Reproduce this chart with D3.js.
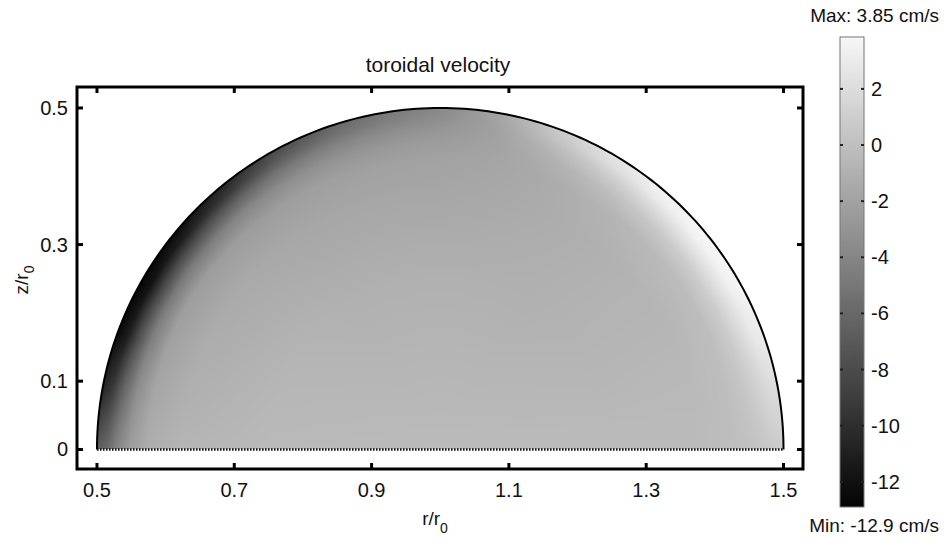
<!DOCTYPE html>
<html>
<head>
<meta charset="utf-8">
<script src="https://cdn.jsdelivr.net/npm/d3@7"></script>
<style>
  html, body { margin: 0; padding: 0; background: #fff; }
  svg { display: block; }
  text { font-family: "Liberation Sans", Arial, Helvetica, sans-serif; fill: #111; }
</style>
</head>
<body>
<svg id="chart" width="944" height="540"></svg>
<script>
// Toroidal velocity (cm/s) over the half-disc cross-section, centre (1, 0), radius 0.5.
// Sampled on a polar grid: angle from the +r axis (degrees) x normalised distance from centre.
const thetaDeg = [0, 10, 20, 30, 40, 50, 60, 70, 80, 90, 100, 110, 120, 130, 140, 150, 160, 170, 180];
const rhoLevels = [0, 0.5, 0.75, 0.85, 0.9, 0.94, 0.97, 1.0];
const velocity = [
  [-0.3, -0.3, -0.3, -0.1,  0.1,  0.4,   0.7,   0.9],
  [-0.3, -0.4, -0.4, -0.1,  0.4,  1.1,   1.7,   2.0],
  [-0.3, -0.6, -0.5, -0.1,  0.7,  1.9,   2.8,   3.2],
  [-0.3, -0.7, -0.7, -0.2,  0.9,  2.4,   3.4,   3.8],
  [-0.3, -0.8, -0.8, -0.3,  0.8,  2.4,   3.5,   3.85],
  [-0.3, -0.9, -1.0, -0.6,  0.4,  1.8,   3.0,   3.5],
  [-0.3, -1.0, -1.2, -1.0, -0.3,  0.8,   1.9,   2.5],
  [-0.3, -1.0, -1.4, -1.5, -1.2, -0.6,   0.2,   0.7],
  [-0.3, -1.0, -1.6, -1.8, -2.0, -2.1,  -2.0,  -1.8],
  [-0.3, -1.0, -1.7, -2.0, -2.4, -2.9,  -3.4,  -3.8],
  [-0.3, -1.0, -1.7, -2.1, -2.7, -3.5,  -4.4,  -5.0],
  [-0.3, -1.0, -1.7, -2.2, -3.0, -4.2,  -5.5,  -6.5],
  [-0.3, -1.0, -1.7, -2.3, -3.4, -5.1,  -7.0,  -8.4],
  [-0.3, -0.9, -1.6, -2.4, -4.0, -6.6,  -9.3, -10.8],
  [-0.3, -0.8, -1.5, -2.4, -4.6, -8.0, -11.0, -12.4],
  [-0.3, -0.7, -1.4, -2.3, -4.8, -8.6, -11.8, -12.9],
  [-0.3, -0.6, -1.2, -2.1, -4.4, -8.0, -11.2, -12.5],
  [-0.3, -0.5, -1.0, -1.7, -3.4, -6.2,  -9.0, -10.6],
  [-0.3, -0.4, -0.7, -1.2, -2.3, -4.0,  -5.8,  -6.8]
];
const vMin = -12.9, vMax = 3.85;

const xTicks = [0.5, 0.7, 0.9, 1.1, 1.3, 1.5];
const yTicks = [0, 0.1, 0.3, 0.5];
const cbTicks = [2, 0, -2, -4, -6, -8, -10, -12];
const centre = [1.0, 0.0], radius = 0.5;

const svg = d3.select("#chart");

// Plot frame and scales (equal aspect in data units)
const frame = { left: 77, right: 803, top: 87, bottom: 469 };
const x = d3.scaleLinear().domain([0.4709, 1.5284]).range([frame.left, frame.right]);
const y = d3.scaleLinear().domain([-0.0286, 0.5307]).range([frame.bottom, frame.top]);
const gray = d3.scaleLinear().domain([vMin, vMax]).range(["#040404", "#f7f7f7"]).clamp(true);

// Bilinear lookup on the polar grid
function sample(thDeg, rho) {
  const ti = Math.min(Math.max(d3.bisectRight(thetaDeg, thDeg) - 1, 0), thetaDeg.length - 2);
  const ri = Math.min(Math.max(d3.bisectRight(rhoLevels, rho) - 1, 0), rhoLevels.length - 2);
  const tf = Math.min(Math.max((thDeg - thetaDeg[ti]) / (thetaDeg[ti + 1] - thetaDeg[ti]), 0), 1);
  const rf = Math.min(Math.max((rho - rhoLevels[ri]) / (rhoLevels[ri + 1] - rhoLevels[ri]), 0), 1);
  const a = velocity[ti][ri], b = velocity[ti][ri + 1];
  const c = velocity[ti + 1][ri], d = velocity[ti + 1][ri + 1];
  return (a * (1 - rf) + b * rf) * (1 - tf) + (c * (1 - rf) + d * rf) * tf;
}

// Rasterise the field into an image that sits inside the frame
const px0 = Math.floor(x(centre[0] - radius)) - 1, px1 = Math.ceil(x(centre[0] + radius)) + 1;
const py0 = Math.floor(y(radius)) - 1, py1 = Math.ceil(y(0)) + 1;
const W = px1 - px0, H = py1 - py0;
const canvas = document.createElement("canvas");
canvas.width = W; canvas.height = H;
const ctx = canvas.getContext("2d");
const img = ctx.createImageData(W, H);
for (let j = 0; j < H; j++) {
  for (let i = 0; i < W; i++) {
    const r = x.invert(px0 + i + 0.5), z = y.invert(py0 + j + 0.5);
    const dx = r - centre[0];
    const rho = Math.sqrt(dx * dx + z * z) / radius;
    if (rho > 1.0 || z < 0) continue;
    const th = Math.atan2(z, dx) * 180 / Math.PI;
    const c = d3.rgb(gray(sample(th, rho)));
    const k = (j * W + i) * 4;
    img.data[k] = c.r; img.data[k + 1] = c.g; img.data[k + 2] = c.b; img.data[k + 3] = 255;
  }
}
ctx.putImageData(img, 0, 0);
svg.append("image")
  .attr("x", px0).attr("y", py0).attr("width", W).attr("height", H)
  .attr("href", canvas.toDataURL());

// Boundary of the half-disc
const arcPts = d3.range(0, 181, 1).map(a => {
  const t = a * Math.PI / 180;
  return [centre[0] + radius * Math.cos(t), centre[1] + radius * Math.sin(t)];
});
svg.append("path")
  .attr("d", d3.line().x(d => x(d[0])).y(d => y(d[1]))(arcPts))
  .attr("fill", "none").attr("stroke", "#000").attr("stroke-width", 2);
svg.append("line")
  .attr("x1", x(centre[0] - radius)).attr("x2", x(centre[0] + radius))
  .attr("y1", y(0)).attr("y2", y(0))
  .attr("stroke", "#111").attr("stroke-width", 2.5).attr("stroke-dasharray", "1.6,1.4");

// Frame with inward ticks on all four sides
svg.append("rect")
  .attr("x", frame.left).attr("y", frame.top)
  .attr("width", frame.right - frame.left).attr("height", frame.bottom - frame.top)
  .attr("fill", "none").attr("stroke", "#000").attr("stroke-width", 3);
const tickLen = 6;
const ticks = svg.append("g").attr("stroke", "#000").attr("stroke-width", 3);
xTicks.forEach(v => {
  ticks.append("line").attr("x1", x(v)).attr("x2", x(v)).attr("y1", frame.bottom).attr("y2", frame.bottom - tickLen);
  ticks.append("line").attr("x1", x(v)).attr("x2", x(v)).attr("y1", frame.top).attr("y2", frame.top + tickLen);
});
yTicks.forEach(v => {
  ticks.append("line").attr("y1", y(v)).attr("y2", y(v)).attr("x1", frame.left).attr("x2", frame.left + tickLen);
  ticks.append("line").attr("y1", y(v)).attr("y2", y(v)).attr("x1", frame.right).attr("x2", frame.right - tickLen);
});

// Tick labels
svg.append("g").selectAll("text").data(xTicks).join("text")
  .attr("x", d => x(d)).attr("y", 497)
  .attr("text-anchor", "middle").attr("font-size", 20)
  .text(d => d3.format(".1f")(d));
svg.append("g").selectAll("text").data(yTicks).join("text")
  .attr("x", 68).attr("y", d => y(d) + 7)
  .attr("text-anchor", "end").attr("font-size", 20)
  .text(d => d === 0 ? "0" : d3.format(".1f")(d));

// Title and axis labels
svg.append("text").attr("x", 438).attr("y", 72)
  .attr("text-anchor", "middle").attr("font-size", 21).text("toroidal velocity");
const xl = svg.append("text").attr("x", 435).attr("y", 525)
  .attr("text-anchor", "middle").attr("font-size", 19);
xl.append("tspan").text("r/r");
xl.append("tspan").attr("dy", 8).attr("font-size", 14).text("0");
const yl = svg.append("text").attr("transform", "translate(28,280) rotate(-90)")
  .attr("text-anchor", "middle").attr("font-size", 19);
yl.append("tspan").text("z/r");
yl.append("tspan").attr("dy", 6).attr("font-size", 14).text("0");

// Colour bar
const cb = { x: 840, w: 24, top: 37, bottom: 507 };
const cy = d3.scaleLinear().domain([vMin, vMax]).range([cb.bottom, cb.top]);
const grad = svg.append("defs").append("linearGradient")
  .attr("id", "cbGrad").attr("x1", 0).attr("x2", 0).attr("y1", 1).attr("y2", 0);
d3.range(0, 11).map(i => vMin + (vMax - vMin) * i / 10).forEach(v => {
  grad.append("stop").attr("offset", (v - vMin) / (vMax - vMin)).attr("stop-color", gray(v));
});
svg.append("rect")
  .attr("x", cb.x).attr("y", cb.top).attr("width", cb.w).attr("height", cb.bottom - cb.top)
  .attr("fill", "url(#cbGrad)").attr("stroke", "#777").attr("stroke-width", 1);
const cbt = svg.append("g").attr("stroke", "#222").attr("stroke-width", 2);
cbTicks.forEach(v => {
  cbt.append("line").attr("x1", cb.x).attr("x2", cb.x + 3).attr("y1", cy(v)).attr("y2", cy(v));
  cbt.append("line").attr("x1", cb.x + cb.w).attr("x2", cb.x + cb.w - 3).attr("y1", cy(v)).attr("y2", cy(v));
});
svg.append("g").selectAll("text").data(cbTicks).join("text")
  .attr("x", 871).attr("y", d => cy(d) + 7)
  .attr("font-size", 20).text(d => d);
svg.append("text").attr("x", 939).attr("y", 22)
  .attr("text-anchor", "end").attr("font-size", 19).text("Max: " + vMax + " cm/s");
svg.append("text").attr("x", 939).attr("y", 532)
  .attr("text-anchor", "end").attr("font-size", 19).text("Min: " + vMin + " cm/s");
</script>
</body>
</html>
